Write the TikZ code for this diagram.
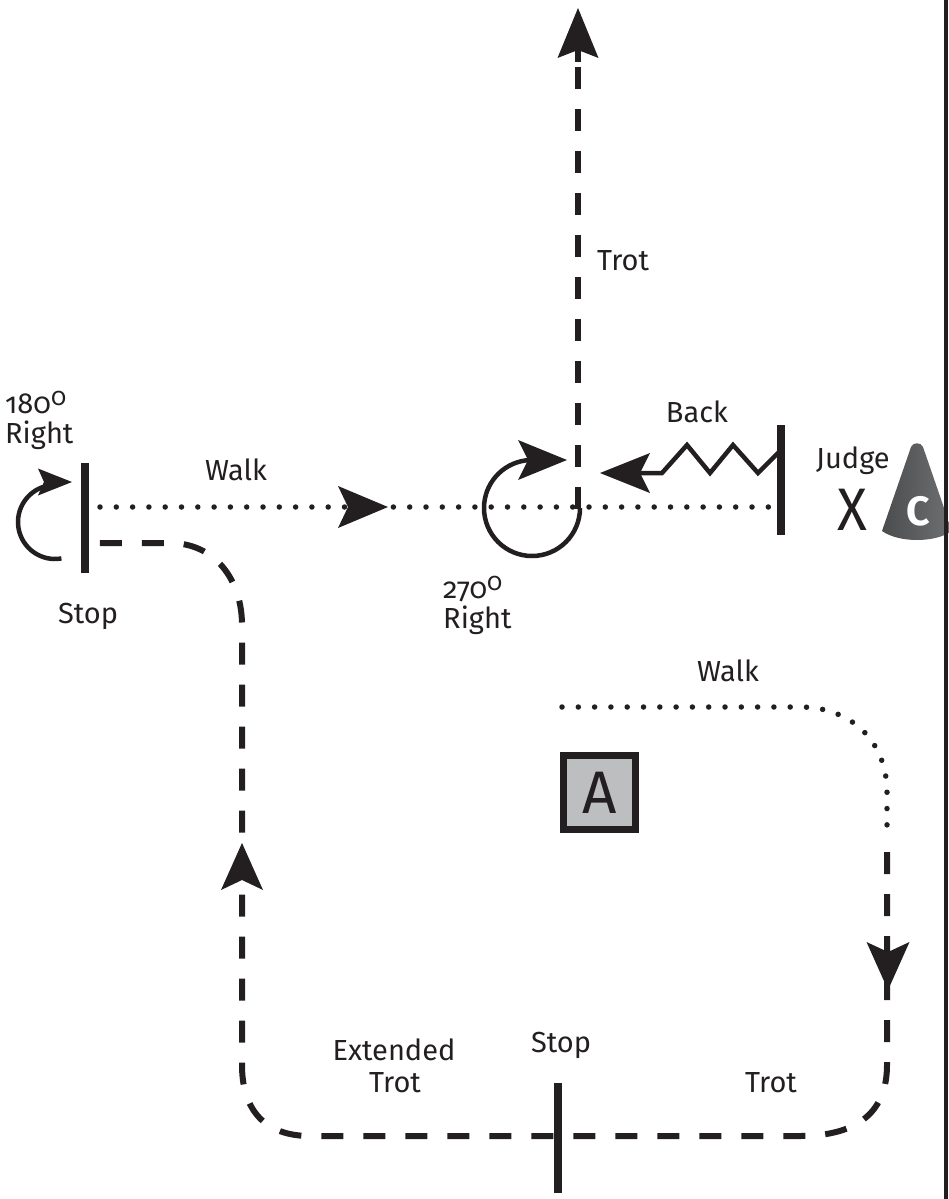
\documentclass[tikz,border=0pt]{standalone}
\usepackage{fontspec}
\setmainfont{Fira Sans}[Numbers=OldStyle]
\usetikzlibrary{arrows.meta}
\definecolor{ink}{HTML}{231F20}
\definecolor{boxgray}{HTML}{BCBEC0}
\definecolor{conegray}{HTML}{5E5F61}
\definecolor{conedark}{HTML}{4B4C4E}
\definecolor{conelight}{HTML}{6F7072}
\tikzset{
  pics/ahd/.style n args={3}{code={\fill[ink] (0,0) -- (-#1,-#2) -- (-#1+#3,0) -- (-#1,#2) -- cycle;}},
  lbl/.style={inner sep=0pt, text=ink, font=\fontsize{29}{30}\selectfont},
  dashpath/.style={draw=ink, line width=6pt, dash pattern=on 22pt off 20pt},
  dotpath/.style={draw=ink, line width=5.5pt, line cap=round, dash pattern=on 0pt off 16.3pt},
  bar/.style={draw=ink, line width=7.5pt},
  turn/.style={draw=ink, line width=4.5pt},
}
\newcommand{\degsup}{\raisebox{8pt}{\fontsize{25}{25}\selectfont 0}}
\begin{document}
\begin{tikzpicture}[x=1pt,y=-1pt]
\useasboundingbox (0,0) rectangle (949,1199);
% right border
\draw[ink, line width=4pt] (945.5,0) -- (945.5,1199);

% named points
\coordinate (lbarT) at (85,463);
\coordinate (lbarB) at (85,573);
\coordinate (jbarT) at (781,425);
\coordinate (jbarB) at (781,535);
\coordinate (sbarT) at (558,1083);
\coordinate (sbarB) at (558,1193);

% stop bars
\draw[bar] (lbarT) -- (lbarB);
\draw[bar] (jbarT) -- (jbarB);
\draw[bar] (sbarT) -- (sbarB);

% walk dotted line
\draw[dotpath] (100,507) -- (778,507);
\pic at (388,507) {ahd={50}{21}{10}};

% trot up
\draw[dashpath] (578,509) -- (578,52);
\draw[ink, line width=6pt] (578,62) -- (578,40);
\pic[rotate=90] at (578,8) {ahd={50}{20.5}{8}};

% 180 right turn
\draw[turn] (55,522) ++(80:37) arc[start angle=80, end angle=255, radius=37] -- (46,483);
\pic at (72,482) {ahd={34}{13.5}{6}};

% 270 right turn
\draw[turn] (532,508) ++(0:48) arc[start angle=0, end angle=262, radius=48] -- (530,460);
\pic at (567,460) {ahd={49}{20}{10}};

% back zigzag
\draw[turn, line join=miter] (781,450) -- (758,473) -- (733,445) -- (710,473) -- (687,445) -- (662,473) -- (640,473);
\pic[rotate=180] at (600,473) {ahd={50}{20}{10}};

% lower walk dotted
\draw[dotpath] (562,707) -- (800,707) .. controls (852,707) and (887,742) .. (887,792) -- (887,835);

% trot / extended trot dashed loop
\draw[dashpath] (887,852) -- (887,1065) .. controls (887,1110) and (860,1136) .. (800,1136)
  -- (310,1136) .. controls (265,1136) and (242,1110) .. (242,1065)
  -- (242,625) .. controls (242,580) and (215,543) .. (170,543) -- (89,543);
\pic[rotate=-90] at (888,990) {ahd={48}{21.5}{10}};
\pic[rotate=90] at (242,843) {ahd={47}{21}{10}};

% A box
\node[draw=ink, line width=7pt, fill=boxgray, minimum width=72pt, minimum height=74pt, inner sep=0pt,
  text=ink, font=\fontsize{60}{60}\selectfont] (abox) at (599.5,792.5) {A};

% cone
\shade[left color=conedark, right color=conelight] (882,531) -- (911,447) .. controls (913,442) and (921,442) .. (923,447) -- (952,531)
  .. controls (935,543) and (899,543) .. (882,531) -- cycle;
\node[inner sep=0pt, text=white, font=\bfseries\fontsize{41}{41}\selectfont] (cone) at (918,511) {C};
\draw[ink, line width=4pt] (945.5,420) -- (945.5,560);

% labels
\node[lbl, anchor=base west] (trotT) at (597,270) {Trot};
\node[lbl, anchor=base west] (deg180) at (5,413) {180\degsup};
\node[lbl, anchor=base west] (right180) at (5,443) {Right};
\node[lbl, anchor=base] (walk1) at (236,480) {Walk};
\node[lbl, anchor=base] (stop1) at (88,623) {Stop};
\node[lbl, anchor=base] (back) at (697,422) {Back};
\node[lbl, anchor=base west] (judge) at (816,468) {Judge};
\node[inner sep=0pt, text=ink, font=\fontsize{60}{60}\selectfont] (judgeX) at (852,510) {\scalebox{0.92}[1]{X}};
\node[lbl, anchor=base west] (deg270) at (443,598) {270\degsup};
\node[lbl, anchor=base west] (right270) at (443,628) {Right};
\node[lbl, anchor=base] (walk2) at (728,681) {Walk};
\node[lbl, anchor=base] (stop2) at (561,1052) {Stop};
\node[lbl, anchor=base] (ext) at (394,1060) {Extended};
\node[lbl, anchor=base] (trot2) at (395,1092) {Trot};
\node[lbl, anchor=base] (trot3) at (771,1092) {Trot};
\end{tikzpicture}
\end{document}
